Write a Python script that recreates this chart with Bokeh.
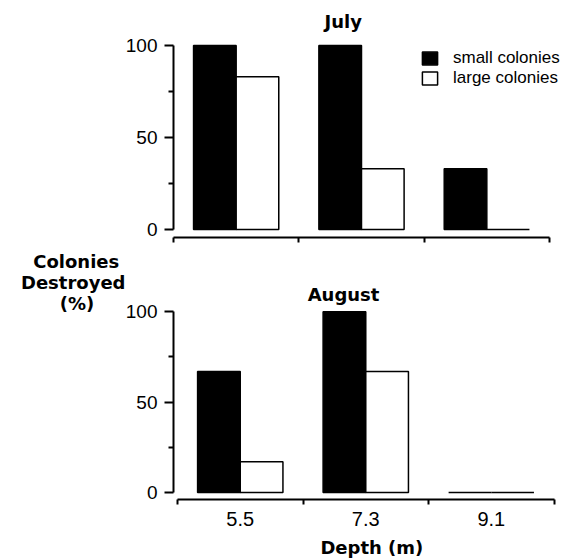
from bokeh.plotting import figure
from bokeh.models import (FixedTicker, Legend, LegendItem, Range1d, ColumnDataSource,
                          LinearAxis, Title, Label)
from bokeh.layouts import column
from bokeh.transform import dodge
from bokeh.embed import file_html
from bokeh.resources import INLINE

# ---- data ----
categories = ["5.5", "7.3", "9.1"]
july_small = [100, 100, 33]
july_large = [83, 33, 0]
aug_small = [67, 100, 0]
aug_large = [17, 67, 0]
y_ticks = [0, 50, 100]
y_minor = [25, 75]
panel_titles = ["July", "August"]
series_names = ["small colonies", "large colonies"]
NB = "\u00a0"
ylabel_text = "Colonies" + NB + "\nDestroyed\n(%)" + NB * 5
xlabel = "Depth  (m)"

TICK_FONT = "Liberation Sans"
BOLD_FONT = "DejaVu Sans"
n = len(categories)
boundaries = [i - 0.5 for i in range(n + 1)]


def make_panel(small, large, height, xr, yr, bl, br, bt, bb, labels):
    p = figure(width=576, height=height, x_range=Range1d(*xr),
               y_range=Range1d(*yr), output_backend="svg", toolbar_location=None,
               min_border_left=bl, min_border_right=br, min_border_top=bt,
               min_border_bottom=bb)
    p.grid.visible = False
    p.outline_line_color = None
    src = ColumnDataSource(dict(x=list(range(n)), small=small, large=large))
    r_small = p.vbar(x=dodge("x", -0.17), top="small", width=0.34, source=src,
                     fill_color="black", line_color="black", line_width=1.5)
    r_large = p.vbar(x=dodge("x", 0.17), top="large", width=0.34, source=src,
                     fill_color="white", line_color="black", line_width=1.5)

    ya = p.yaxis[0]
    ya.ticker = FixedTicker(ticks=y_ticks, minor_ticks=y_minor)
    ya.bounds = (0, 100)
    ya.major_tick_out = 9
    ya.major_tick_in = 0
    ya.minor_tick_out = 5
    ya.minor_tick_in = 0
    ya.axis_line_width = 2
    ya.major_tick_line_width = 2
    ya.minor_tick_line_width = 2
    ya.major_label_text_font = TICK_FONT
    ya.major_label_text_font_size = "19px"
    ya.major_label_text_color = "black"
    ya.major_label_standoff = 7

    xa = p.xaxis[0]
    xa.bounds = (-0.5, n - 0.5)
    xa.axis_line_width = 2
    xa.major_tick_line_width = 2
    xa.minor_tick_line_width = 2
    xa.minor_tick_out = 5
    xa.minor_tick_in = 0
    xa.major_tick_in = 0
    xa.major_tick_out = 0
    if labels:
        xa.ticker = FixedTicker(ticks=list(range(n)), minor_ticks=boundaries)
        xa.major_label_overrides = {i: c for i, c in enumerate(categories)}
        xa.major_label_text_font = TICK_FONT
        xa.major_label_text_font_size = "20px"
        xa.major_label_text_color = "black"
        xa.major_label_standoff = 7
    else:
        xa.ticker = FixedTicker(ticks=[], minor_ticks=boundaries)
    return p, r_small, r_large


def make_legend(item, renderer, loc):
    return Legend(items=[LegendItem(label=item, renderers=[renderer])],
                  location=loc, padding=0, margin=0, spacing=0,
                  glyph_width=19, glyph_height=16, label_standoff=14,
                  label_text_font=TICK_FONT, label_text_font_size="17px",
                  label_text_color="black", border_line_alpha=0,
                  background_fill_alpha=0)


# ---- July panel ----
top, ts, tl = make_panel(july_small, july_large, 248, (-0.5, 2.7155), (-4.35, 102.72),
                         173, 0, 40, 11, False)
top.add_layout(Title(text=panel_titles[0], align="left", offset=151, standoff=17,
                     text_font=BOLD_FONT, text_font_style="bold",
                     text_font_size="18px", text_color="black"), "above")
top.add_layout(make_legend(series_names[0], ts, (247, 169)))
top.add_layout(make_legend(series_names[1], tl, (247, 149)))

# ---- August panel (frame extended upward so the titles sit inside it) ----
bot, bs, bl_ = make_panel(aug_small, aug_large, 312, (-0.532, 2.679), (-3.84, 134.94),
                          173, 0, 0, 59, True)
bot.add_layout(Label(x=0.8227, y=109.4, text=panel_titles[1], text_font=BOLD_FONT,
                     text_font_style="bold", text_font_size="18px",
                     text_color="black", text_align="center",
                     text_baseline="middle"))

# y-axis title: an extra tick-less axis whose single tick label carries the text
ylab_pos = 116
yl = LinearAxis(ticker=FixedTicker(ticks=[ylab_pos]),
                axis_line_color=None, major_tick_line_color=None,
                minor_tick_line_color=None, major_tick_out=0, major_tick_in=0,
                major_label_standoff=-3,
                major_label_overrides={ylab_pos: ylabel_text},
                major_label_text_font=BOLD_FONT, major_label_text_font_style="bold",
                major_label_text_font_size="18px", major_label_text_color="black",
                major_label_text_line_height=1.0)
bot.add_layout(yl, "left")

xa = bot.xaxis[0]
xa.axis_label = xlabel
xa.axis_label_standoff = 8
xa.axis_label_text_font = BOLD_FONT
xa.axis_label_text_font_style = "bold"
xa.axis_label_text_font_size = "18px"
xa.axis_label_text_color = "black"

layout = column(top, bot)
open("out.html", "w").write(file_html(layout, INLINE))
